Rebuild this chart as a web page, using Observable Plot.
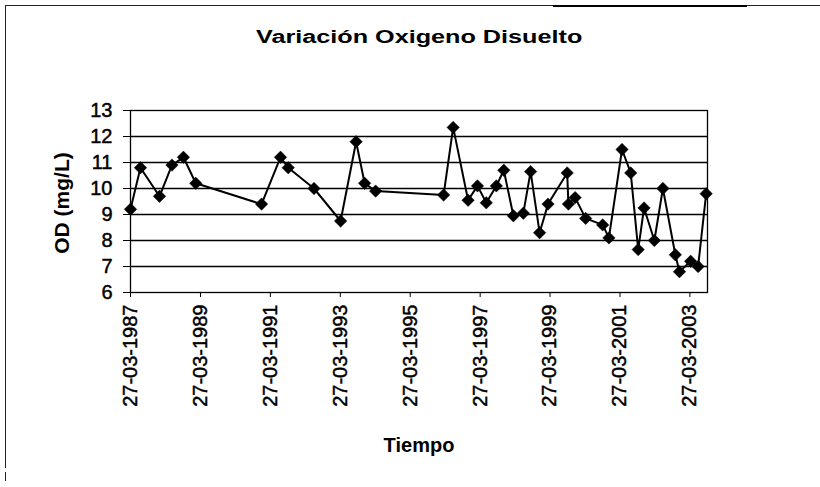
<!DOCTYPE html>
<html>
<head>
<meta charset="utf-8">
<script src="https://cdn.jsdelivr.net/npm/d3@7"></script>
<script src="https://cdn.jsdelivr.net/npm/@observablehq/plot@0.6"></script>
<style>
  html, body { margin: 0; padding: 0; background: #fff; }
  #wrap { position: relative; width: 820px; height: 487px; overflow: hidden; font-family: "Liberation Sans", Arial, sans-serif; color: #000; }
  #wrap svg { position: absolute; left: 0; top: 0; }
  #wrap svg g[aria-label$="tick label"] text { stroke: #000; stroke-width: 0.45px; }
  .lbl { position: absolute; white-space: nowrap; font-weight: bold; line-height: 1em; }
</style>
</head>
<body>
<div id="wrap">
  <div style="position:absolute;left:5px;top:5px;width:815px;height:1px;background:#222;"></div>
  <div style="position:absolute;left:553px;top:5px;width:194px;height:2px;background:#000;"></div>
  <div style="position:absolute;left:5px;top:5px;width:1px;height:463px;background:#222;"></div>
  <div style="position:absolute;left:5px;top:472px;width:1px;height:9px;background:#222;"></div>
  <div class="lbl" id="title" style="left:256px;top:28px;font-size:18px;transform:scaleX(1.4);transform-origin:0 0;">Variación Oxigeno Disuelto</div>
  <div class="lbl" id="ylab" style="left:61px;top:203px;font-size:21px;transform:translate(-50%,-50%) rotate(-90deg);">OD (mg/L)</div>
  <div class="lbl" id="xlab" style="left:419px;top:435px;font-size:20px;transform:translateX(-50%);">Tiempo</div>
</div>
<script>
// Sampling dates and dissolved-oxygen values (mg/L)
const fechas = [
  "1987-03-27","1987-07-09","1988-01-24","1988-06-02","1988-09-30","1989-02-06",
  "1990-12-25","1991-07-11","1991-09-30","1992-06-25","1993-03-30","1993-09-08",
  "1993-12-06","1994-03-31","1996-03-10","1996-06-18","1996-11-21","1997-02-27",
  "1997-05-30","1997-09-12","1997-11-29","1998-03-09","1998-06-21","1998-09-05",
  "1998-12-08","1999-03-06","1999-09-22","1999-10-05","1999-12-14","2000-04-02",
  "2000-09-27","2000-12-01","2001-04-17","2001-07-17","2001-10-03","2001-12-03",
  "2002-03-21","2002-06-18","2002-10-26","2002-12-08","2003-04-04","2003-06-21",
  "2003-09-13"
];
const od = [
  9.2, 10.8, 9.7, 10.9, 11.2, 10.2,
  9.4, 11.2, 10.8, 10.0, 8.75, 11.8,
  10.2, 9.9, 9.75, 12.35, 9.55, 10.1,
  9.45, 10.1, 10.7, 8.95, 9.05, 10.65,
  8.3, 9.4, 10.6, 9.4, 9.65, 8.85,
  8.6, 8.1, 11.5, 10.6, 7.65, 9.25,
  8.0, 10.0, 7.45, 6.8, 7.2, 7.0,
  9.8
];
const tickFechas = ["1987-03-27","1989-03-27","1991-03-27","1993-03-27","1995-03-27","1997-03-27","1999-03-27","2001-03-27","2003-03-27"];
const yTicks = [6, 7, 8, 9, 10, 11, 12, 13];
const yGrid = [7, 8, 9, 10, 11, 12];
const xDomain = ["1987-03-27", "2003-09-27"];

const parse = d3.utcParse("%Y-%m-%d");
const data = fechas.map((f, i) => ({fecha: parse(f), od: od[i]}));
const fmt = d3.utcFormat("%d-%m-%Y");

const chart = Plot.plot({
  width: 820,
  height: 487,
  marginLeft: 130,
  marginRight: 113,
  marginTop: 110,
  marginBottom: 195,
  style: {fontFamily: "'Liberation Sans', Arial, sans-serif", color: "#000", background: "transparent"},
  x: {type: "utc", domain: xDomain.map(parse)},
  y: {domain: [6, 13]},
  marks: [
    Plot.gridY(yGrid, {stroke: "#000", strokeOpacity: 1, strokeWidth: 1.3}),
    Plot.frame({stroke: "#000", strokeWidth: 1.3}),
    Plot.axisY(yTicks, {tickSize: 7, tickPadding: 11, fontSize: 20, label: null, tickFormat: d => String(d), stroke: "#000"}),
    Plot.axisX(tickFechas.map(parse), {tickSize: 5, tickPadding: 7, tickRotate: -90, fontSize: 20, label: null, tickFormat: fmt, stroke: "#000"}),
    Plot.line(data, {x: "fecha", y: "od", stroke: "#000", strokeWidth: 2}),
    Plot.dot(data, {x: "fecha", y: "od", symbol: "diamond2", r: 5.6, fill: "#000", stroke: "#000", strokeWidth: 0.5})
  ]
});
document.getElementById("wrap").insertBefore(chart, document.getElementById("title"));
</script>
</body>
</html>
